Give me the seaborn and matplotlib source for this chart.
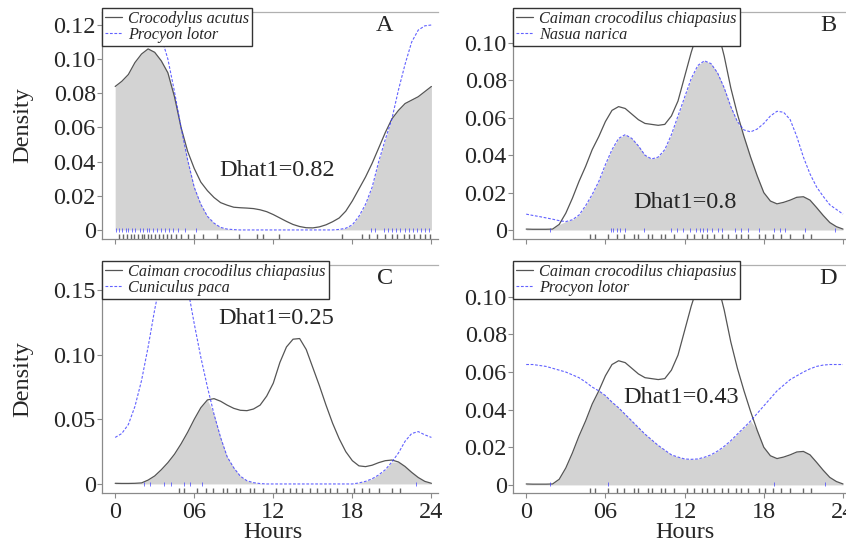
import numpy as np
import seaborn as sns
import matplotlib.pyplot as plt

# half-hour grid the densities were read on
hours = np.arange(0, 24.5, 0.5)

# --- panel A: Crocodylus acutus vs Procyon lotor
croc_a = [0.084, 0.087, 0.091, 0.098, 0.103, 0.106, 0.104, 0.099, 0.092, 0.078,
          0.060, 0.046, 0.036, 0.028, 0.023, 0.019, 0.016, 0.0145, 0.0133, 0.013,
          0.0128, 0.0125, 0.0118, 0.0107, 0.009, 0.007, 0.005, 0.0032, 0.002, 0.0013,
          0.0012, 0.0018, 0.003, 0.0048, 0.007, 0.011, 0.017, 0.024, 0.031, 0.039,
          0.048, 0.057, 0.065, 0.070, 0.074, 0.076, 0.078, 0.081, 0.084]
procyon_a = [0.120, 0.125, 0.128, 0.130, 0.129, 0.126, 0.120, 0.113, 0.100, 0.081,
             0.060, 0.041, 0.025, 0.015, 0.008, 0.004, 0.0015, 0.0005, 0.0002, 0.0,
             0.0, 0.0, 0.0, 0.0, 0.0, 0.0, 0.0, 0.0, 0.0, 0.0,
             0.0, 0.0, 0.0, 0.0, 0.0003, 0.001, 0.003, 0.008, 0.015, 0.025,
             0.040, 0.053, 0.065, 0.082, 0.097, 0.110, 0.117, 0.1195, 0.120]

# --- Caiman crocodilus chiapasius (as drawn in B/D and in C)
caiman_bd = [0.0005, 0.0004, 0.0004, 0.0004, 0.0005, 0.003, 0.009, 0.017, 0.026, 0.034,
             0.043, 0.050, 0.058, 0.064, 0.066, 0.065, 0.062, 0.059, 0.057, 0.0565,
             0.056, 0.0565, 0.061, 0.069, 0.082, 0.095, 0.106, 0.112, 0.113, 0.107,
             0.093, 0.076, 0.062, 0.050, 0.039, 0.029, 0.020, 0.0155, 0.014, 0.0148,
             0.016, 0.0175, 0.0178, 0.016, 0.012, 0.0078, 0.004, 0.0018, 0.0005]
caiman_c = [0.0005, 0.0004, 0.0004, 0.0005, 0.0008, 0.003, 0.0062, 0.011, 0.0165, 0.023,
            0.031, 0.040, 0.050, 0.059, 0.065, 0.066, 0.064, 0.061, 0.0585, 0.057,
            0.0567, 0.058, 0.061, 0.068, 0.078, 0.094, 0.106, 0.112, 0.1125, 0.104,
            0.090, 0.076, 0.061, 0.047, 0.035, 0.025, 0.018, 0.014, 0.0134, 0.0145,
            0.0165, 0.018, 0.0185, 0.017, 0.0135, 0.009, 0.005, 0.002, 0.0005]

# --- panel B: Nasua narica
nasua = [0.0085, 0.0078, 0.0072, 0.0065, 0.0058, 0.005, 0.0045, 0.0055, 0.008, 0.013,
         0.019, 0.026, 0.035, 0.043, 0.049, 0.051, 0.049, 0.045, 0.040, 0.038,
         0.039, 0.043, 0.051, 0.061, 0.071, 0.081, 0.088, 0.0905, 0.089, 0.084,
         0.076, 0.066, 0.058, 0.0535, 0.0525, 0.054, 0.057, 0.061, 0.0635, 0.063,
         0.059, 0.050, 0.039, 0.030, 0.023, 0.018, 0.0135, 0.011, 0.0085]

# --- panel C: Cuniculus paca
paca = [0.036, 0.039, 0.046, 0.060, 0.080, 0.106, 0.135, 0.160, 0.178, 0.183,
        0.172, 0.152, 0.124, 0.098, 0.075, 0.054, 0.036, 0.021, 0.0125, 0.006,
        0.0025, 0.001, 0.0003, 0.0, 0.0, 0.0, 0.0, 0.0, 0.0, 0.0,
        0.0, 0.0, 0.0, 0.0, 0.0, 0.0, 0.0, 0.0008, 0.002, 0.004,
        0.007, 0.011, 0.017, 0.024, 0.033, 0.039, 0.0405, 0.038, 0.036]

# --- panel D: Procyon lotor
procyon_d = [0.064, 0.064, 0.0635, 0.063, 0.062, 0.061, 0.060, 0.0585, 0.057, 0.0547,
             0.052, 0.050, 0.0475, 0.044, 0.041, 0.0375, 0.034, 0.0305, 0.027, 0.024,
             0.021, 0.0185, 0.016, 0.0148, 0.0138, 0.0136, 0.0138, 0.0147, 0.016, 0.018,
             0.0205, 0.0235, 0.027, 0.0305, 0.034, 0.038, 0.042, 0.046, 0.050, 0.053,
             0.056, 0.058, 0.060, 0.0617, 0.063, 0.0637, 0.064, 0.064, 0.064]

# observation times (rug marks)
rug_croc_a = [0.3, 0.6, 0.9, 1.2, 1.4, 1.7, 2.0, 2.2, 2.5, 2.7, 3.0, 3.3, 3.6, 3.9, 4.2,
              4.6, 5.0, 5.5, 6.0, 6.7, 7.7, 9.4, 10.8, 11.2, 12.4, 17.2, 18.7, 19.3,
              19.9, 20.5, 21.0, 21.4, 21.9, 22.3, 22.7, 23.1, 23.5, 23.9]
rug_procyon_a = [0.1, 0.3, 0.5, 0.8, 1.0, 1.3, 1.5, 1.9, 2.1, 2.4, 2.6, 2.9, 3.2, 3.5,
                 3.8, 4.1, 4.4, 4.8, 5.3, 6.1, 19.4, 19.7, 20.4, 20.7, 21.0, 21.3,
                 21.6, 22.0, 22.3, 22.6, 22.9, 23.2, 23.5, 23.8]
rug_caiman = [4.85, 5.2, 6.2, 6.9, 7.4, 8.2, 8.5, 9.2, 9.5, 10.2, 10.5, 11.2, 12.2, 12.7,
              13.3, 13.7, 14.2, 14.8, 15.3, 15.9, 16.3, 16.8, 17.6, 18.1, 18.7, 19.3,
              20.0, 21.0, 21.6]
rug_nasua = [1.8, 6.4, 6.6, 6.9, 7.1, 7.5, 8.9, 11.0, 11.4, 11.9, 12.4, 12.9, 13.2, 13.4,
             13.7, 14.1, 14.5, 14.8, 15.8, 16.3, 16.8, 17.6, 18.8, 19.2, 19.6, 21.1, 23.4]
rug_paca = [2.16, 2.67, 3.7, 4.2, 5.2, 5.7, 6.6, 22.85]
rug_procyon_d = [1.8, 6.2, 18.8, 22.6]

panels = [
    # letter, ref name, ref curve, other name, other curve, ref rug, other rug,
    # dhat text, yticks, ylim, rect (px: left, top, right, bottom)
    ('A', 'Crocodylus acutus', croc_a, 'Procyon lotor', procyon_a, rug_croc_a, rug_procyon_a,
     'Dhat1=0.82', (12.3, 0.035), [0, 0.02, 0.04, 0.06, 0.08, 0.10, 0.12],
     (-0.0053, 0.1276), (102, 12, 438, 239)),
    ('B', 'Caiman crocodilus chiapasius', caiman_bd, 'Nasua narica', nasua, rug_caiman, rug_nasua,
     'Dhat1=0.8', (12.05, 0.0145), [0, 0.02, 0.04, 0.06, 0.08, 0.10],
     (-0.0048, 0.1166), (513, 12, 849.6, 239)),
    ('C', 'Caiman crocodilus chiapasius', caiman_c, 'Cuniculus paca', paca, rug_caiman, rug_paca,
     'Dhat1=0.25', (12.2, 0.128), [0, 0.05, 0.10, 0.15],
     (-0.0070, 0.1694), (102, 265, 438, 493)),
    ('D', 'Caiman crocodilus chiapasius', caiman_bd, 'Procyon lotor', procyon_d, rug_caiman, rug_procyon_d,
     'Dhat1=0.43', (11.7, 0.0464), [0, 0.02, 0.04, 0.06, 0.08, 0.10],
     (-0.0043, 0.1169), (513, 265, 849.6, 493)),
]

sns.set_style('ticks')
plt.rcParams['font.family'] = ['Liberation Serif', 'DejaVu Serif']

W, H = 846, 541
fig = plt.figure(figsize=(W / 100, H / 100), dpi=100)

line_col = '#555555'
blue = '#3a3aff'
axis_col = '#8a8a8a'

for i, (letter, n1, d1, n2, d2, r1, r2, dhat, dpos, yt, ylim, rect) in enumerate(panels):
    l, t, r, b = rect
    ax = fig.add_axes([l / W, 1 - b / H, (r - l) / W, (b - t) / H])

    ax.fill_between(hours, np.minimum(d1, d2), color='#d3d3d3', lw=0)
    sns.lineplot(x=hours, y=d1, ax=ax, color=line_col, lw=0.9, label=n1)
    sns.lineplot(x=hours, y=d2, ax=ax, color=blue, lw=0.8, alpha=0.8,
                 linestyle=(0, (2.5, 1.5)), label=n2)

    # rug marks: reference species just above the spine, other species on zero line
    sns.rugplot(x=r1, ax=ax, height=0.022, color='#666666', lw=0.5)
    ax.vlines(r2, 0.03, 0.048, transform=ax.get_xaxis_transform(), color=blue, lw=0.6, alpha=0.8)

    ax.set_xlim(-1, 24.5)
    ax.set_ylim(*ylim)
    ax.set_xticks([0, 6, 12, 18, 24])
    ax.set_yticks(yt)
    ax.set_yticklabels(['0' if v == 0 else f'{v:.2f}' for v in yt])
    if i >= 2:
        ax.set_xticklabels(['0', '06', '12', '18', '24'])
        ax.set_xlabel('Hours', fontsize=17.5)
        ax.xaxis.set_label_coords(0.51, -0.125)
    else:
        ax.set_xticklabels([])
        ax.set_xlabel('')
    if i % 2 == 0:
        ax.set_ylabel('Density', fontsize=17.5)
        ax.yaxis.set_label_coords(-0.205, 0.5)
    else:
        ax.set_ylabel('')

    ax.tick_params(axis='both', labelsize=17.5, color=axis_col, length=3.5, width=0.8)
    ax.tick_params(axis='y', pad=1)
    ax.tick_params(axis='x', pad=3)
    ax.spines['right'].set_visible(False)
    for s in ['left', 'bottom']:
        ax.spines[s].set_color(axis_col)
        ax.spines[s].set_linewidth(0.9)
    ax.spines['top'].set_color('#b0b0b0')
    ax.spines['top'].set_linewidth(0.9)

    ax.text(dpos[0], dpos[1], dhat, fontsize=17.5, ha='center', va='center')
    ax.text(0.842 if i % 2 == 0 else 0.936, 0.94, letter, transform=ax.transAxes,
            fontsize=17.5, ha='center', va='center')

    leg = ax.legend(loc='upper left', bbox_to_anchor=(0, 1.018), borderaxespad=0,
                    frameon=True, fancybox=False, framealpha=1, edgecolor='#333333',
                    prop=dict(family='Liberation Serif', style='italic', size=11.7),
                    handlelength=1.0, handletextpad=0.4, labelspacing=0.0, borderpad=0.2)
    leg.get_frame().set_linewidth(1.0)

fig.savefig('out.png', dpi=100)
